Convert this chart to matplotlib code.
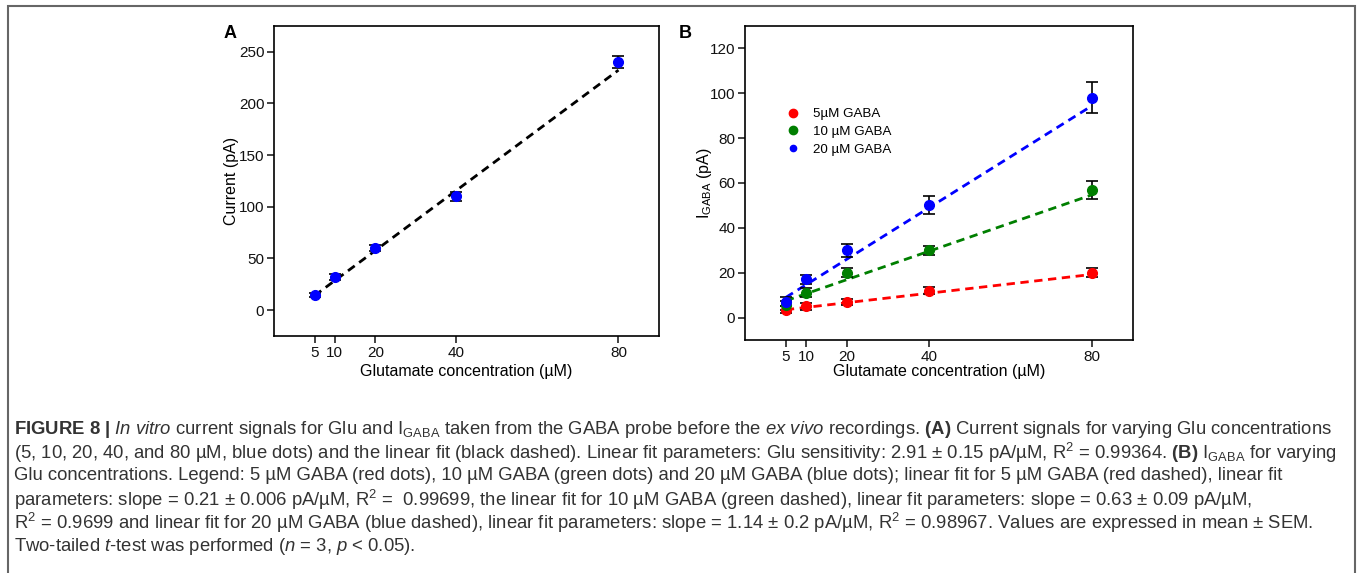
# Figure 8: in vitro Glu / GABA probe calibration
from matplotlib import pyplot as plt
from matplotlib.patches import Rectangle
from matplotlib import font_manager
import matplotlib
import numpy as np

matplotlib.rcParams['font.family'] = ['Liberation Sans', 'DejaVu Sans']

# caption is set in a narrow face when one is around
names = {f.name for f in font_manager.fontManager.ttflist}
cap_font = 'Liberation Sans Narrow' if 'Liberation Sans Narrow' in names else 'Liberation Sans'
matplotlib.rcParams['mathtext.fontset'] = 'custom'
matplotlib.rcParams['mathtext.rm'] = cap_font
matplotlib.rcParams['mathtext.it'] = cap_font + ':italic'
matplotlib.rcParams['mathtext.bf'] = cap_font + ':bold'

# ---- data ----
glu_conc = [5, 10, 20, 40, 80]

# panel A: current vs glutamate
current_a = [15, 32, 60, 110, 240]
current_a_err = [2, 3, 3, 4, 6]
fit_a = (2.91, -0.5)   # slope, intercept

# panel B: I_GABA for 3 GABA levels
gaba_labels = ['5µM GABA', '10 µM GABA', '20 µM GABA']
gaba_colors = ['#ff0000', '#007f00', '#0000ff']
igaba = [
    [3.5, 5, 7, 12, 20],
    [5.5, 11, 20, 30, 57],
    [7, 17, 30, 50, 98],
]
igaba_err = [
    [1.5, 1.5, 1.5, 1.5, 2],
    [2, 2, 2, 2, 4],
    [2, 2, 3, 4, 7],
]
fit_b = [(0.21, 2.45), (0.63, 4.35), (1.14, 3.3)]

caption_lines = [
    r'$\mathbf{FIGURE\ 8\ |}$ $\mathit{In\ vitro}$ current signals for Glu and I$_{\mathrm{GABA}}$ taken from the GABA probe '
    r'before the $\mathit{ex\ vivo}$ recordings. $\mathbf{(A)}$ Current signals for varying Glu concentrations',
    r'(5, 10, 20, 40, and 80 µM, blue dots) and the linear fit (black dashed). Linear fit parameters: Glu sensitivity: '
    r'2.91 ± 0.15 pA/µM, R$^2$ = 0.99364. $\mathbf{(B)}$ I$_{\mathrm{GABA}}$ for varying',
    'Glu concentrations. Legend: 5 µM GABA (red dots), 10 µM GABA (green dots) and 20 µM GABA (blue dots); '
    'linear fit for 5 µM GABA (red dashed), linear fit',
    r'parameters: slope = 0.21 ± 0.006 pA/µM, R$^2$ =  0.99699, the linear fit for 10 µM GABA (green dashed), '
    r'linear fit parameters: slope = 0.63 ± 0.09 pA/µM,',
    r'R$^2$ = 0.9699 and linear fit for 20 µM GABA (blue dashed), linear fit parameters: slope = 1.14 ± 0.2 pA/µM, '
    r'R$^2$ = 0.98967. Values are expressed in mean ± SEM.',
    r'Two-tailed $\mathit{t}$-test was performed ($\mathit{n}$ = 3, $\mathit{p}$ < 0.05).',
]

W, H = 1357, 573
fig = plt.figure(figsize=(W / 100, H / 100), dpi=100)


def style_axes(ax, xpad):
    for s in ax.spines.values():
        s.set_linewidth(1.2)
    ax.tick_params(direction='out', length=5, width=1.1, labelsize=11, colors='#111111', pad=2)
    ax.set_xticks(glu_conc)
    ax.set_xlim(-5, 90)
    ax.set_xlabel('Glutamate concentration (µM)', fontsize=11.5, labelpad=xpad)


# ---- panel A ----
ax1 = fig.add_axes([274 / W, 1 - 336 / H, (659 - 274) / W, (336 - 26) / H])
xf = np.array([glu_conc[0], glu_conc[-1]])
ax1.plot(xf, fit_a[0] * xf + fit_a[1], c='black', linewidth=2, linestyle=(0, (3, 2)), zorder=1)
ax1.errorbar(glu_conc, current_a, yerr=current_a_err, fmt='none', ecolor='black',
             elinewidth=1.2, capsize=4, capthick=1.2, zorder=2)
ax1.plot(glu_conc, current_a, 'o', color='#0000ff', markersize=7, zorder=3)
ax1.set_ylim(-25, 275)
ax1.set_yticks([0, 50, 100, 150, 200, 250])
ax1.set_ylabel('Current (pA)', fontsize=11.5, labelpad=0)
style_axes(ax1, 3)
fig.text(224 / W, 1 - 33 / H, 'A', fontsize=13, fontweight='bold', va='center')

# ---- panel B ----
ax2 = fig.add_axes([745 / W, 1 - 340 / H, (1133 - 745) / W, (340 - 26) / H])
handles = []
for i in range(len(igaba)):
    k, b = fit_b[i]
    ax2.plot(xf, k * xf + b, c=gaba_colors[i], linewidth=2, linestyle=(0, (3, 2)), zorder=1)
    ax2.errorbar(glu_conc, igaba[i], yerr=igaba_err[i], fmt='none', ecolor='black',
                 elinewidth=1.2, capsize=4.5, capthick=1.2, zorder=2)
    ax2.plot(glu_conc, igaba[i], 'o', color=gaba_colors[i], markersize=7, zorder=3)
    h, = ax2.plot([], [], 'o', color=gaba_colors[i], markersize=[6, 6, 4.5][i])
    handles.append(h)
ax2.set_ylim(-10, 130)
ax2.set_yticks([0, 20, 40, 60, 80, 100, 120])
ax2.set_ylabel('I$_{\\mathrm{GABA}}$ (pA)', fontsize=11.5, labelpad=-3)
style_axes(ax2, 0)
ax2.legend(handles, gaba_labels, loc='upper left', bbox_to_anchor=(0.09, 0.76), frameon=False,
           fontsize=9.6, handlelength=1.0, handletextpad=1.0, labelspacing=0.4, borderpad=0)
fig.text(679 / W, 1 - 33 / H, 'B', fontsize=13, fontweight='bold', va='center')

# ---- caption ----
renderer = fig.canvas.get_renderer()
cap_texts = []
for i, line in enumerate(caption_lines):
    y = 1 - (429 + i * 23.5) / H
    cap_texts.append(fig.text(14 / W, y, line, fontsize=11, color='#333333', va='center', ha='left',
                              family=[cap_font, 'DejaVu Sans']))
# fit the second line to the width it takes in the original
w = cap_texts[1].get_window_extent(renderer).width
for t in cap_texts:
    t.set_fontsize(11 * (1334 - 14) / w)

# frame around the figure (bottom edge is cut off)
fig.patches.append(Rectangle((8 / W, -0.05), (1355 - 8) / W, 1.05 - 6 / H, transform=fig.transFigure,
                             fill=False, edgecolor='#666666', linewidth=1.5))

plt.savefig('out.png', dpi=100)
